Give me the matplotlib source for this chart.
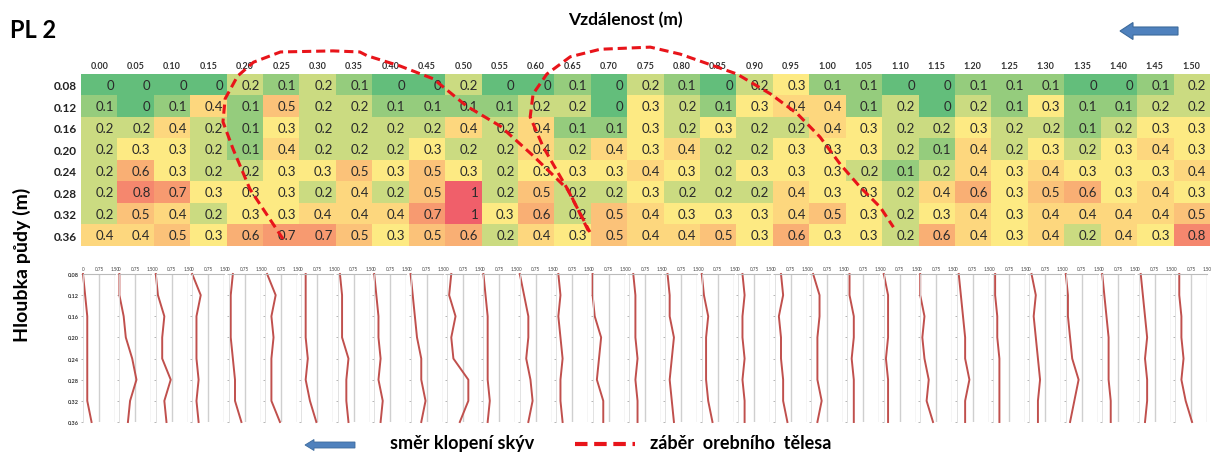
import numpy as np
import matplotlib
matplotlib.use('Agg')
import matplotlib.pyplot as plt
from matplotlib.colors import LinearSegmentedColormap
from matplotlib.patches import FancyArrow

plt.rcParams['font.family'] = ['Lato', 'DejaVu Sans']

# distance (m) along the profile and soil depth (m)
vzdalenost = [round(0.05 * i, 2) for i in range(31)]
hloubka = [0.08, 0.12, 0.16, 0.20, 0.24, 0.28, 0.32, 0.36]

# values, one list per depth row
r008 = [0, 0, 0, 0, 0.2, 0.1, 0.2, 0.1, 0, 0, 0.2, 0, 0, 0.1, 0, 0.2, 0.1, 0, 0.2, 0.3, 0.1, 0.1, 0, 0, 0.1, 0.1, 0.1, 0, 0, 0.1, 0.2]
r012 = [0.1, 0, 0.1, 0.4, 0.1, 0.5, 0.2, 0.2, 0.1, 0.1, 0.1, 0.1, 0.2, 0.2, 0, 0.3, 0.2, 0.1, 0.3, 0.4, 0.4, 0.1, 0.2, 0, 0.2, 0.1, 0.3, 0.1, 0.1, 0.2, 0.2]
r016 = [0.2, 0.2, 0.4, 0.2, 0.1, 0.3, 0.2, 0.2, 0.2, 0.2, 0.4, 0.2, 0.4, 0.1, 0.1, 0.3, 0.2, 0.3, 0.2, 0.2, 0.4, 0.3, 0.2, 0.2, 0.3, 0.2, 0.2, 0.1, 0.2, 0.3, 0.3]
r020 = [0.2, 0.3, 0.3, 0.2, 0.1, 0.4, 0.2, 0.2, 0.2, 0.3, 0.2, 0.2, 0.4, 0.2, 0.4, 0.3, 0.4, 0.2, 0.2, 0.3, 0.3, 0.3, 0.2, 0.1, 0.4, 0.2, 0.3, 0.2, 0.3, 0.4, 0.3]
r024 = [0.2, 0.6, 0.3, 0.2, 0.2, 0.3, 0.3, 0.5, 0.3, 0.5, 0.3, 0.2, 0.3, 0.3, 0.3, 0.4, 0.3, 0.2, 0.3, 0.3, 0.3, 0.2, 0.1, 0.2, 0.4, 0.3, 0.4, 0.3, 0.3, 0.3, 0.4]
r028 = [0.2, 0.8, 0.7, 0.3, 0.3, 0.3, 0.2, 0.4, 0.2, 0.5, 1, 0.2, 0.5, 0.2, 0.2, 0.3, 0.2, 0.2, 0.2, 0.4, 0.3, 0.3, 0.2, 0.4, 0.6, 0.3, 0.5, 0.6, 0.3, 0.4, 0.3]
r032 = [0.2, 0.5, 0.4, 0.2, 0.3, 0.3, 0.4, 0.4, 0.4, 0.7, 1, 0.3, 0.6, 0.2, 0.5, 0.4, 0.3, 0.3, 0.3, 0.4, 0.5, 0.3, 0.2, 0.3, 0.4, 0.3, 0.4, 0.4, 0.4, 0.4, 0.5]
r036 = [0.4, 0.4, 0.5, 0.3, 0.6, 0.7, 0.7, 0.5, 0.3, 0.5, 0.6, 0.2, 0.4, 0.3, 0.5, 0.4, 0.4, 0.5, 0.3, 0.6, 0.3, 0.3, 0.2, 0.6, 0.4, 0.3, 0.4, 0.2, 0.4, 0.3, 0.8]

# hand-drawn outline of the plough body cut (distance m, depth m)
zaber1_x = [0.2525, 0.207, 0.184, 0.170, 0.173, 0.190, 0.212, 0.249, 0.321, 0.358, 0.368, 0.413, 0.459, 0.505, 0.551, 0.596, 0.643, 0.674]
zaber1_y = [0.367, 0.274, 0.200, 0.149, 0.106, 0.064, 0.038, 0.019, 0.017, 0.019, 0.026, 0.045, 0.069, 0.120, 0.157, 0.212, 0.274, 0.354]
zaber2_x = [0.672, 0.647, 0.610, 0.592, 0.596, 0.615, 0.647, 0.688, 0.757, 0.798, 0.876, 0.922, 0.959, 0.990, 1.018, 1.045, 1.073, 1.091]
zaber2_y = [0.352, 0.283, 0.196, 0.140, 0.097, 0.060, 0.028, 0.014, 0.010, 0.023, 0.060, 0.097, 0.134, 0.177, 0.228, 0.270, 0.308, 0.345]

data = np.array([r008, r012, r016, r020, r024, r028, r032, r036])

W, H = 1211, 456
fig = plt.figure(figsize=(W / 100, H / 100), dpi=100)

def box(l, t, r, b):
    return [l / W, 1 - b / H, (r - l) / W, (b - t) / H]

cmap = LinearSegmentedColormap.from_list('excel', [(0, '#63BE7B'), (0.3, '#FFEB84'), (0.65, '#F9A572'), (1, '#F05F6A')])

# ---- heatmap ----
cw = 36.4
ax = fig.add_axes(box(81, 75, 81 + 31 * cw, 247))
ax.imshow(data, cmap=cmap, vmin=0, vmax=1, aspect='auto',
          extent=[-0.025, 1.525, 0.38, 0.06], interpolation='nearest')
for i, d in enumerate(hloubka):
    for j, x in enumerate(vzdalenost):
        ax.text(x + 0.0205, d, f'{data[i, j]:g}', ha='right', va='center',
                fontsize=9.5, color='#2a2a2a')
ax.xaxis.tick_top()
ax.set_xticks(vzdalenost)
ax.set_xticklabels([f'{v:.2f}' for v in vzdalenost], fontsize=6.5, fontweight='bold', color='#333333')
ax.set_yticks(hloubka)
ax.set_yticklabels([f'{v:.2f}' for v in hloubka], fontsize=8.5, fontweight='bold', color='#222222')
ax.tick_params(length=0, pad=3)
for s in ax.spines.values():
    s.set_visible(False)
ax.set_xlim(-0.025, 1.525)
ax.set_ylim(0.38, 0.06)
ax.plot(zaber1_x, zaber1_y, color='#E8141A', lw=2.2, ls=(0, (3, 1.6)), clip_on=False, zorder=5)
ax.plot(zaber2_x, zaber2_y, color='#E8141A', lw=2.2, ls=(0, (3, 1.6)), clip_on=False, zorder=5)

# ---- small profile panels ----
for j in range(len(vzdalenost)):
    l = 83 + cw * j
    a = fig.add_axes(box(l, 275, l + 32, 423))
    a.plot(data[:, j], hloubka, color='#C0504D', lw=1.4, clip_on=False)
    a.set_xlim(0, 1.5)
    a.set_ylim(0.36, 0.08)
    a.set_xticks([0, 0.75, 1.5])
    a.set_xticklabels(['0', '0.75', '1.50'], fontsize=3.3, color='#444444')
    a.xaxis.tick_top()
    a.set_yticks(hloubka)
    if j == 0:
        a.set_yticklabels([f'{v:.2f}' for v in hloubka], fontsize=4, fontweight='bold', color='#333333')
    else:
        a.set_yticklabels([])
    a.tick_params(axis='x', length=0, pad=2)
    a.tick_params(axis='y', length=1.5, width=0.5, color='#999999', pad=1.5)
    for xv in (0.75, 1.5):
        a.axvline(xv, color='#CFCFCF', lw=1.0, zorder=0)
    a.spines['top'].set_color('#BBBBBB')
    a.spines['left'].set_color('#DDDDDD')
    a.spines['left'].set_linewidth(0.6)
    a.spines['right'].set_visible(False)
    a.spines['bottom'].set_visible(False)
    a.patch.set_alpha(0)

# ---- texts, arrows, legend ----
fig.text(10 / W, 1 - 30 / H, 'PL 2', fontsize=17, fontweight='bold', va='center', ha='left')
fig.text(625 / W, 1 - 20 / H, 'Vzdálenost (m)', fontsize=12.5, fontweight='bold', va='center', ha='center')
fig.text(22 / W, 1 - 265 / H, 'Hloubka půdy (m)', fontsize=14, fontweight='bold', rotation=90, va='center', ha='center')

ov = fig.add_axes([0, 0, 1, 1], zorder=10)
ov.set_xlim(0, W)
ov.set_ylim(H, 0)
ov.axis('off')
ov.patch.set_alpha(0)
ov.add_patch(FancyArrow(1178, 32, -58, 0, width=8, head_width=17, head_length=13,
                        length_includes_head=True, fc='#4F81BD', ec='#3C6A9C', lw=0.8))
ov.add_patch(FancyArrow(355, 446, -50, 0, width=6, head_width=11, head_length=9,
                        length_includes_head=True, fc='#4F81BD', ec='#3C6A9C', lw=0.6))
ov.text(390, 444, 'směr klopení skýv', fontsize=13, fontweight='bold', va='center', ha='left')
ov.plot([575, 635], [445, 445], color='#E8141A', lw=3, ls=(0, (3, 1.6)))
ov.text(650, 444, 'záběr  orebního  tělesa', fontsize=13, fontweight='bold', va='center', ha='left')

fig.savefig('out.png', dpi=100)
